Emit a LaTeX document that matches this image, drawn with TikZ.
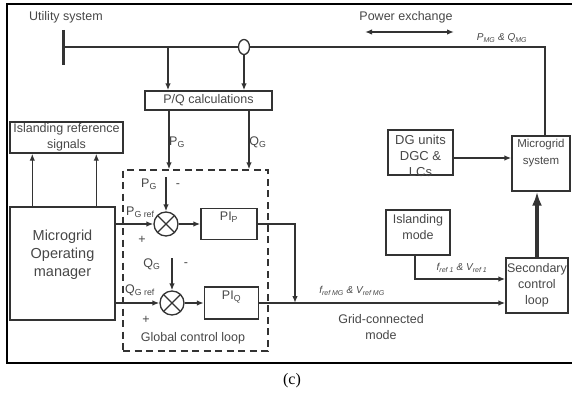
\documentclass[tikz,border=0pt]{standalone}
\usepackage{fontspec}
\setsansfont{Liberation Sans}
\newfontfamily\capfont{Liberation Serif}
\usepackage{xcolor}
\usetikzlibrary{positioning,arrows.meta,shapes.geometric,calc}
\definecolor{ink}{HTML}{333333}
\definecolor{txt}{HTML}{474747}

\begin{document}
\begin{tikzpicture}[x=1pt,y=-1pt,>={Latex[length=7pt,width=5.5pt]},
  every node/.style={font=\sffamily\fontsize{12.5}{16.5}\selectfont,text=txt},
  blk/.style={draw=ink,line width=1.4pt,align=center,inner sep=1pt},
  sig/.style={draw=ink,line width=1.4pt},
  lbl/.style={align=center,inner sep=0pt},
  sml/.style={font=\sffamily\itshape\fontsize{10}{11}\selectfont},
  summ/.style={circle,draw=ink,line width=1.3pt,minimum size=24pt,inner sep=0pt,
    path picture={\draw[ink,line width=1.3pt]
      (path picture bounding box.north west) -- (path picture bounding box.south east)
      (path picture bounding box.north east) -- (path picture bounding box.south west);}}]
  \useasboundingbox (0,0) rectangle (572,396);
  % frame
  \draw[black,line width=2pt] (580,4) -- (7,4) -- (7,363) -- (580,363);

  % utility bus
  \coordinate (busT) at (63,30); \coordinate (busB) at (63,65);
  \coordinate (busM) at (63,47); \coordinate (tapP) at (168,47);
  \coordinate (busR) at (545,47);
  \draw[ink,line width=3pt] (busT) -- (busB);

  % blocks
  \node[blk,minimum width=127pt,minimum height=19pt] (pq) at (208.5,100.5) {P/Q calculations};
  \node[blk,minimum width=113pt,minimum height=31pt] (isl) at (66.5,137.5) {Islanding reference\\signals};
  \node[blk,minimum width=105pt,minimum height=113pt,
    label={[lbl,font=\sffamily\fontsize{14.5}{18}\selectfont,yshift=8.5pt]center:Microgrid\\Operating\\manager}] (mgr) at (62.5,263.5) {};
  \node[draw=ink,line width=1.3pt,dash pattern=on 7pt off 4.5pt,minimum width=145pt,minimum height=181pt] (loop) at (195.5,260.5) {};
  \node[summ] (sum1) at (166,224) {};
  \node[summ] (sum2) at (172,303) {};
  \node[blk,minimum width=56pt,minimum height=31pt,label={[lbl,yshift=7pt]center:PI\textsubscript{P}}] (pip) at (229,224) {};
  \node[blk,minimum width=54pt,minimum height=32pt,label={[lbl,yshift=6pt]center:PI\textsubscript{Q}}] (piq) at (231.5,303) {};
  \node[blk,minimum width=65pt,minimum height=45pt,
    label={[lbl,font=\sffamily\fontsize{13}{16}\selectfont,yshift=-3.5pt]center:DG units\\DGC \&\\LCs}] (dg) at (420.5,152.5) {};
  \node[blk,minimum width=58pt,minimum height=55pt,
    label={[lbl,font=\sffamily\fontsize{11.5}{17}\selectfont,yshift=10pt]center:Microgrid\\system}] (mgs) at (541,163.5) {};
  \node[blk,minimum width=64pt,minimum height=45pt,label={[lbl,yshift=5.5pt]center:Islanding\\mode}] (imode) at (418,232.5) {};
  \node[blk,minimum width=62pt,minimum height=55pt,font=\sffamily\fontsize{12.5}{16}\selectfont] (sec) at (537,285.5) {Secondary\\control\\loop};

  % bus line and current sensor
  \draw[sig] (busM) -- (busR) -- (busR |- mgs.north);
  \node[ellipse,draw=ink,line width=1.3pt,fill=white,minimum width=11pt,minimum height=15pt,inner sep=0pt] (ct) at (244,47) {};

  % signals
  \draw[sig,->] (tapP) -- (tapP |- pq.north);
  \draw[sig,->] (ct.south) -- (ct.south |- pq.north);
  \coordinate (colP) at (169,0); \coordinate (colQ) at (249,0);
  \draw[sig,->] (colP |- pq.south) -- (colP |- loop.north);
  \draw[sig,->] (colQ |- pq.south) -- (colQ |- loop.north);
  \foreach \dx [count=\i] in {23,87} {
    \coordinate (up\i) at ([xshift=\dx pt]mgr.north west);
    \draw[sig,->] (up\i) -- (up\i |- isl.south);
  }
  \coordinate (inP) at (166,177); \coordinate (inQ) at (172,258);
  \draw[sig,->] (inP) -- (sum1.north);
  \draw[sig,->] (inQ) -- (sum2.north);
  \draw[sig,->] (mgr.east |- sum1.west) -- (sum1.west);
  \draw[sig,->] (mgr.east |- sum2.west) -- (sum2.west);
  \draw[sig,->] (sum1.east) -- (pip.west);
  \draw[sig,->] (sum2.east) -- (piq.west);
  \coordinate (jn) at (295,303);
  \draw[sig,->] (pip.east) -| (jn);
  \draw[sig,->] (piq.east) -- (sec.west |- piq.east);
  \coordinate (secI) at ([yshift=6.5pt]sec.west);
  \coordinate (imS) at ([xshift=-3pt]imode.south);
  \draw[sig,->] (imS) |- (secI);
  \draw[ink,line width=4pt,-{Latex[length=14pt,width=10pt]}] (sec.north) -- (sec.north |- mgs.south);
  \coordinate (dgO) at ([yshift=-5.5pt]dg.east);
  \draw[sig,->] (dgO) -- (mgs.west |- dgO);
  \coordinate (pxL) at (365,32); \coordinate (pxR) at (454,32);
  \draw[sig,<->] (pxL) -- (pxR);

  % labels
  \node (lutil) at (66,17) {Utility system};
  \node (lpx) at (406,17) {Power exchange};
  \node[sml] (lpmg) at (502,38) {P\textsubscript{MG} \& Q\textsubscript{MG}};
  \node (lpg) at (177,142) {P\textsubscript{G}};
  \node (lqg) at (258,142) {Q\textsubscript{G}};
  \node (lpg2) at (149,184) {P\textsubscript{G}};
  \node (lm1) at (178,186) {-};
  \node[anchor=west,inner sep=0pt] (lpgr) at (126,212) {P\textsubscript{G ref}};
  \node (lp1) at (142,240) {+};
  \node (lqg2) at (152,264) {Q\textsubscript{G}};
  \node (lm2) at (186,265) {-};
  \node[anchor=west,inner sep=0pt] (lqgr) at (125,290) {Q\textsubscript{G ref}};
  \node (lp2) at (146,320) {+};
  \node (lgcl) at (193,338) {Global control loop};
  \node[sml] (lfmg) at (352,291) {f\textsubscript{ref MG} \& V\textsubscript{ref MG}};
  \node[align=center] (lgrid) at (381,327) {Grid-connected\\mode};
  \node[sml] (lf1) at (462,268) {f\textsubscript{ref 1} \& V\textsubscript{ref 1}};
  \node[font=\capfont\fontsize{16}{18}\selectfont,text=black] (cap) at (292,381) {(c)};
\end{tikzpicture}
\end{document}
